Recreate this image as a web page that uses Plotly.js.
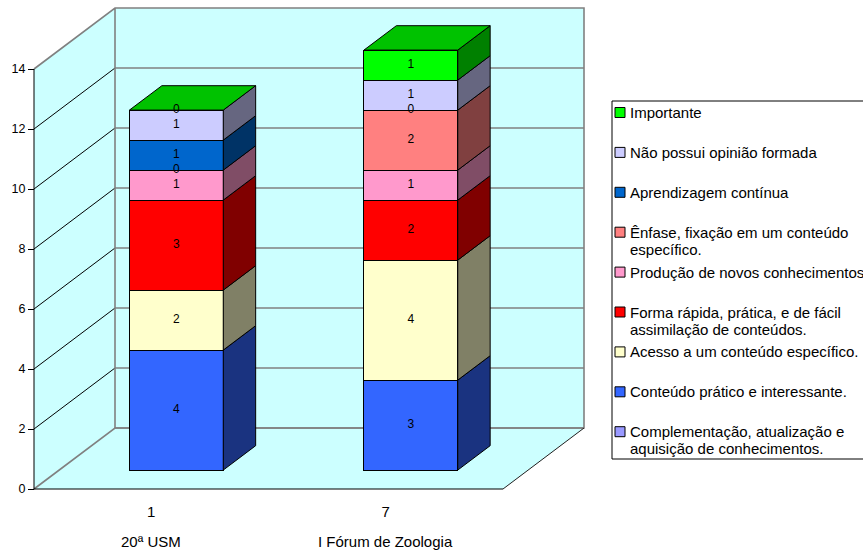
<!DOCTYPE html>
<html>
<head>
<meta charset="utf-8">
<script src="https://cdn.plot.ly/plotly-3.0.1.min.js"></script>
<style>
  html, body { margin: 0; padding: 0; background: #ffffff; }
  #chart { width: 863px; height: 550px; }
</style>
</head>
<body>
<div id="chart"></div>
<script>
// ---- data -------------------------------------------------------------
const categoryCodes = ['1', '7'];
const eventNames = ['20ª USM', 'I Fórum de Zoologia'];
const yTickValues = [0, 2, 4, 6, 8, 10, 12, 14];

// stacked from the floor upwards
const complementacao = [null, null];
const conteudoPratico = [4, 3];
const acessoConteudo = [2, 4];
const formaRapida = [3, 2];
const producaoConhecimentos = [1, 1];
const enfaseFixacao = [0, 2];
const aprendizagemContinua = [1, 0];
const naoPossuiOpiniao = [1, 1];
const importante = [0, 1];

const seriesNames = [
  'Complementação, atualização e<br>aquisição de conhecimentos.',
  'Conteúdo prático e interessante.',
  'Acesso a um conteúdo específico.',
  'Forma rápida, prática, e de fácil<br>assimilação de conteúdos.',
  'Produção de novos conhecimentos',
  'Ênfase, fixação em um conteúdo<br>específico.',
  'Aprendizagem contínua',
  'Não possui opinião formada',
  'Importante'
];
const seriesValues = [
  complementacao, conteudoPratico, acessoConteudo, formaRapida,
  producaoConhecimentos, enfaseFixacao, aprendizagemContinua,
  naoPossuiOpiniao, importante
];
const seriesColors = [
  '#9999FF', '#3366FF', '#FFFFCC', '#FF0000',
  '#FF99CC', '#FF8080', '#0066CC', '#CCCCFF', '#00FF00'
];

// ---- geometry of the 3-D box -----------------------------------------
const FONT = 'Liberation Sans, Arial, sans-serif';
const W = 863, H = 550;
const M = { l: 20, r: 263, t: 2, b: 55 };
const plotW = W - M.l - M.r;
const plotH = H - M.t - M.b;
const PX_X = 234.5;               // pixels per category step
const PX_Y = 30;                  // pixels per unit of value
const ORIGIN = { x: 34, y: 489 }; // front-left corner of the floor
const DEPTH_PX = { x: 81, y: 61 };// oblique offset of the back wall
const dX = DEPTH_PX.x / PX_X, dY = DEPTH_PX.y / PX_Y;
const FRONT = 0.31;   // depth fraction of the bars' front faces
const DEPTH = 0.4;    // depth fraction of the bars themselves
const BAR_W = 0.4;
const X0 = -0.5, X1 = categoryCodes.length - 0.5;
const YTOP = yTickValues[yTickValues.length - 1];

const xRange = [X0 - (ORIGIN.x - M.l) / PX_X, X0 + (M.l + plotW - ORIGIN.x) / PX_X];
const yRange = [-(M.t + plotH - ORIGIN.y) / PX_Y, (ORIGIN.y - M.t) / PX_Y];
const x2Range = xRange.map(v => v - FRONT * dX);
const y2Range = yRange.map(v => v - FRONT * dY);

const paperX = px => (px - M.l) / plotW;
const paperY = py => (M.t + plotH - py) / plotH;

function shade(hex, f) {
  const n = parseInt(hex.slice(1), 16);
  const c = [(n >> 16) & 255, (n >> 8) & 255, n & 255].map(v => Math.round(v * f));
  return 'rgb(' + c.join(',') + ')';
}

function poly(xs, ys, fill, axes) {
  return {
    type: 'scatter', mode: 'lines', x: xs, y: ys, fill: 'toself',
    fillcolor: fill, line: { width: 0 }, hoverinfo: 'skip', showlegend: false,
    xaxis: axes ? axes[0] : 'x', yaxis: axes ? axes[1] : 'y'
  };
}
function lines(xs, ys, color, width) {
  return {
    type: 'scatter', mode: 'lines', x: xs, y: ys, connectgaps: false,
    line: { color: color, width: width }, hoverinfo: 'skip', showlegend: false
  };
}

const traces = [];
const WALL = '#CCFFFF', EDGE = '#808080';

// walls and floor
traces.push(poly([X0, X0, X0 + dX, X0 + dX], [0, YTOP, YTOP + dY, dY], WALL));
traces.push(poly([X0 + dX, X1 + dX, X1 + dX, X0 + dX], [dY, dY, YTOP + dY, YTOP + dY], WALL));
traces.push(poly([X0, X1, X1 + dX, X0 + dX], [0, 0, dY, dY], WALL));

// gridlines: oblique on the side wall, horizontal on the back wall
const gx = [], gy = [], bx = [], by = [];
yTickValues.slice(1, -1).forEach(v => {
  gx.push(X0, X0 + dX, null); gy.push(v, v + dY, null);
  bx.push(X0 + dX, X1 + dX, null); by.push(v + dY, v + dY, null);
});
traces.push(lines(gx, gy, '#000000', 1));
traces.push(lines(bx, by, EDGE, 1.6));

// box edges
traces.push(lines(
  [X0, X0 + dX, X1 + dX, X1 + dX, X0 + dX, X0 + dX, null, X0, X0 + dX, X1 + dX],
  [YTOP, YTOP + dY, YTOP + dY, dY, dY, YTOP + dY, null, 0, dY, dY],
  EDGE, 1.6));
traces.push(lines([X1, X1 + dX], [0, dY], '#202020', 1));
// value axis and category axis lines
traces.push(lines([X0, X0, X1], [YTOP, 0, 0], '#000000', 1));

// ---- bars (front faces through the bar trace, depth as side/top faces) --
const idx = categoryCodes.map((_, i) => i);
const cum = idx.map(() => 0);
const labelX = [], labelY = [], labelT = [];
const bdx = DEPTH * dX, bdy = DEPTH * dY;

seriesValues.forEach((vals, k) => {
  traces.push({
    type: 'bar', name: seriesNames[k], x: idx, y: vals, width: BAR_W,
    xaxis: 'x2', yaxis: 'y2', textposition: 'none', hoverinfo: 'skip',
    showlegend: false,
    marker: { color: seriesColors[k], line: { color: '#000000', width: 1 } }
  });
  const sx = [], sy = [];
  idx.forEach(i => {
    const v = vals[i];
    if (v === null || v === undefined) return;
    const b = cum[i], t = b + v, xr = i + BAR_W / 2;
    if (v > 0) {
      sx.push(xr, xr + bdx, xr + bdx, xr, xr, null);
      sy.push(b, b + bdy, t + bdy, t, b, null);
    }
    labelX.push(i); labelY.push(b + v / 2); labelT.push(String(v));
    cum[i] = t;
  });
  if (sx.length) {
    traces.push({
      type: 'scatter', mode: 'lines', x: sx, y: sy, fill: 'toself',
      fillcolor: shade(seriesColors[k], 0.5),
      line: { color: '#000000', width: 1 }, xaxis: 'x2', yaxis: 'y2',
      hoverinfo: 'skip', showlegend: false
    });
  }
});

// top faces take the colour of the last series in the stack
const tx = [], ty = [];
idx.forEach(i => {
  const T = cum[i], xl = i - BAR_W / 2, xr = i + BAR_W / 2;
  tx.push(xl, xr, xr + bdx, xl + bdx, xl, null);
  ty.push(T, T, T + bdy, T + bdy, T, null);
});
traces.push({
  type: 'scatter', mode: 'lines', x: tx, y: ty, fill: 'toself',
  fillcolor: shade(seriesColors[seriesColors.length - 1], 0.76),
  line: { color: '#000000', width: 1 }, xaxis: 'x2', yaxis: 'y2',
  hoverinfo: 'skip', showlegend: false
});

// value labels
traces.push({
  type: 'scatter', mode: 'text', x: labelX, y: labelY, text: labelT,
  textposition: 'middle center', cliponaxis: false,
  textfont: { family: FONT, size: 12, color: '#000000' },
  xaxis: 'x2', yaxis: 'y2', hoverinfo: 'skip', showlegend: false
});

// ---- legend box ------------------------------------------------------
const shapes = [];
const annotations = [];
const LEG = { left: 612, top: 101, bottom: 459, right: 866, firstY: 112.5, step: 39.9, line: 17 };
shapes.push({
  type: 'rect', xref: 'paper', yref: 'paper',
  x0: paperX(LEG.left), x1: paperX(LEG.right), y0: paperY(LEG.bottom), y1: paperY(LEG.top),
  line: { color: '#000000', width: 1 }, fillcolor: '#FFFFFF', layer: 'above'
});
const order = seriesNames.map((_, k) => k).reverse();
order.forEach((k, slot) => {
  const yc = LEG.firstY + slot * LEG.step;
  shapes.push({
    type: 'rect', xref: 'paper', yref: 'paper',
    x0: paperX(615), x1: paperX(625), y0: paperY(yc + 5), y1: paperY(yc - 5),
    line: { color: '#000000', width: 1 }, fillcolor: seriesColors[k], layer: 'above'
  });
  seriesNames[k].split('<br>').forEach((txt, j) => {
    annotations.push({
      xref: 'paper', yref: 'paper', x: paperX(628), y: paperY(yc + j * LEG.line),
      xanchor: 'left', yanchor: 'middle', showarrow: false, text: txt,
      font: { family: FONT, size: 15, color: '#000000' }
    });
  });
});

// event names under the category codes
eventNames.forEach((name, i) => {
  annotations.push({
    xref: 'x', yref: 'paper', x: i, y: paperY(541), xanchor: 'center', yanchor: 'middle',
    showarrow: false, text: name, font: { family: FONT, size: 15, color: '#000000' }
  });
});

const layout = {
  width: W, height: H,
  margin: { l: M.l, r: M.r, t: M.t, b: M.b, autoexpand: false },
  paper_bgcolor: '#FFFFFF', plot_bgcolor: 'rgba(0,0,0,0)',
  font: { family: FONT, color: '#000000' },
  showlegend: false,
  barmode: 'stack',
  xaxis: {
    range: xRange, anchor: 'free', position: paperY(ORIGIN.y),
    tickmode: 'array', tickvals: idx, ticktext: categoryCodes,
    ticks: '', ticklabelstandoff: 12, tickfont: { family: FONT, size: 15 },
    showline: false, showgrid: false, zeroline: false, fixedrange: true
  },
  yaxis: {
    range: yRange, anchor: 'free', position: paperX(ORIGIN.x),
    tickmode: 'array', tickvals: yTickValues,
    ticks: 'outside', ticklen: 6, tickcolor: '#000000', tickwidth: 1,
    tickfont: { family: FONT, size: 12.5 },
    showline: false, showgrid: false, zeroline: false, fixedrange: true
  },
  xaxis2: { range: x2Range, overlaying: 'x', anchor: 'y2', visible: false, fixedrange: true },
  yaxis2: { range: y2Range, overlaying: 'y', anchor: 'x2', visible: false, fixedrange: true },
  shapes: shapes,
  annotations: annotations
};

Plotly.newPlot('chart', traces, layout, { displayModeBar: false, staticPlot: true });
</script>
</body>
</html>
